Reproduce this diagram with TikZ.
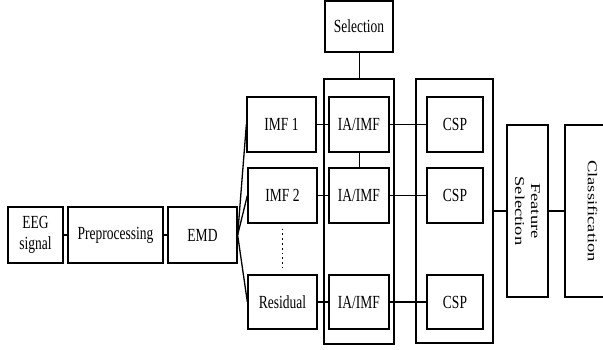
\documentclass[tikz,border=0pt]{standalone}
\usepackage{fontspec}
\setmainfont[FakeStretch=0.73]{Liberation Serif}
\newfontfamily\rotfont[FakeStretch=1.37]{Liberation Serif}
\usepackage{tikz}
\usetikzlibrary{positioning}

\begin{document}
\begin{tikzpicture}[x=1pt,y=-1pt]

\tikzset{block/.style 2 args={
		draw, line width=1.3pt,
		minimum width=#1, minimum height=#2,
		anchor=center, align=center, inner sep=0pt,
		font=\fontsize{18.5}{21}\selectfont
	},
	vtext/.style={
		rotate=-90, align=center,
		font=\rotfont\fontsize{13.5}{16}\selectfont
	},
	group/.style 2 args={
		draw, line width=1.3pt,
		minimum width=#1, minimum height=#2,
		anchor=center, inner sep=0pt
	},
	link/.style={line width=1.3pt}
}
\clip (0,0) rectangle (603,349);

% groups behind
\node[group={70}{265}] (grpia) at (359,211.5) {};
\node[group={77}{264}] (grpcsp) at (454.5,211) {};

\node[block={55}{56}] (eeg) at (35.5,235) {EEG\\signal};
\node[block={95}{56}] (prep) at (115.5,235) {Preprocessing};
\node[block={69}{56}] (emd) at (202.5,235) {EMD};

\node[block={69}{55}] (imf1) at (281.5,124.5) {IMF 1};
\node[block={69}{55}] (imf2) at (282.5,195.5) {IMF 2};
\node[block={69}{54}] (res) at (282.5,302) {Residual};

\node[block={68}{51}] (sel) at (359,26.5) {Selection};
\node[block={60}{55}] (ia1) at (359,124.5) {IA/IMF};
\node[block={60}{55}] (ia2) at (359,195.5) {IA/IMF};
\node[block={60}{54}] (ia3) at (359,302) {IA/IMF};

\node[block={56}{55}] (csp1) at (455,124.5) {CSP};
\node[block={56}{55}] (csp2) at (455,195.5) {CSP};
\node[block={56}{54}] (csp3) at (455,302) {CSP};

\node[block={41}{172}] (fsel) at (527.5,211) {};
\node[vtext] at (fsel.center) {Feature\\Selection};
\node[block={55}{172}] (cls) at (592.5,211) {};
\node[vtext] at (cls.center) {Classification};

% connectors
\draw[link] (eeg) -- (prep);
\draw[link] (prep) -- (emd);
\draw[link] (emd.east) -- (imf1.west);
\draw[link] (emd.east) -- (imf2.west);
\draw[link] (emd.east) -- (res.west);
\draw[link] (imf1) -- (ia1);
\draw[link] (imf2) -- (ia2);
\draw[link] (res) -- (ia3);
\draw[link] (ia1) -- (csp1);
\draw[link] (ia2) -- (csp2);
\draw[link] (ia3) -- (csp3);
\draw[line width=0.7pt] (ia1) -- (ia2);
\draw[line width=0.8pt] (sel) -- (grpia.north);
\draw[link] (grpcsp.east) -- (fsel.west);
\draw[link] (fsel.east) -- (cls.west);
\draw[line width=1.8pt, dash pattern=on 1.8pt off 3pt] ([yshift=-5pt]imf2.south) -- ([yshift=6pt]res.north);

\end{tikzpicture}
\end{document}
